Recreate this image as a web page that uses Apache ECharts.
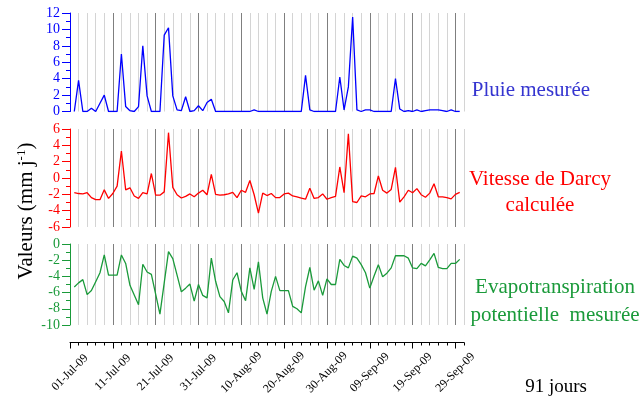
<!DOCTYPE html>
<html>
<head>
<meta charset="utf-8">
<script src="https://cdn.jsdelivr.net/npm/echarts@6/dist/echarts.min.js"></script>
<style>
    html, body { margin: 0; padding: 0; background: #fff; }
    #main { width: 643px; height: 400px; }
</style>
</head>
<body>
<div id="main"></div>
<script>
// étiquettes de l'axe des dates (tous les 10 jours)
var tickLabels = ['01-Jul-09', '11-Jul-09', '21-Jul-09', '31-Jul-09', '10-Aug-09',
    '20-Aug-09', '30-Aug-09', '09-Sep-09', '19-Sep-09', '29-Sep-09'];

// pluie mesurée (mm/j), un point par jour à partir du jour 1
var rain = [0, 3.8, 0, 0, 0.4, 0, 1.0, 2.0, 0, 0,
    0, 7.0, 0.6, 0.1, 0, 0.6, 8.0, 1.9, 0, 0,
    0, 9.3, 10.2, 1.9, 0.2, 0.1, 1.8, 0, 0.1, 0.7,
    0.1, 1.1, 1.5, 0, 0, 0, 0, 0, 0, 0,
    0, 0, 0.2, 0, 0, 0, 0, 0, 0, 0,
    0, 0, 0, 0, 4.4, 0.2, 0, 0, 0, 0,
    0, 0, 4.2, 0.2, 3.0, 11.5, 0.2, 0, 0.2, 0.2,
    0, 0, 0, 0, 0, 4.0, 0.3, 0, 0.1, 0,
    0.2, 0, 0.1, 0.2, 0.2, 0.2, 0.1, 0, 0.2, 0, 0];

// vitesse de Darcy calculée
var darcy = [-1.8, -1.9, -1.95, -1.8, -2.4, -2.65, -2.65, -1.45, -2.5, -1.9,
    -1.0, 3.3, -1.45, -1.2, -2.2, -2.5, -1.8, -1.95, 0.55, -2.1,
    -2.1, -1.7, 5.55, -1.15, -2.05, -2.45, -2.25, -1.95, -2.3, -1.85,
    -1.5, -2.05, 0.45, -2.0, -2.1, -2.05, -1.95, -1.75, -2.4, -1.5,
    -1.75, -0.3, -2.05, -4.3, -1.85, -2.15, -1.9, -2.4, -2.4, -1.95,
    -1.85, -2.2, -2.3, -2.45, -2.6, -1.25, -2.5, -2.4, -1.95, -2.6,
    -2.4, -2.25, 1.35, -1.8, 5.4, -2.9, -3.0, -2.2, -2.3, -1.95,
    -1.9, 0.25, -1.5, -1.85, -1.4, 1.3, -2.95, -2.3, -1.5, -1.8,
    -1.3, -2.05, -2.35, -1.85, -0.7, -2.3, -2.3, -2.4, -2.55, -2.0, -1.75];

// évapotranspiration potentielle mesurée
var etp = [-5.3, -4.8, -4.4, -6.25, -5.75, -4.65, -3.55, -1.35, -3.85, -3.85,
    -3.85, -1.35, -2.4, -5.1, -6.3, -7.5, -2.5, -3.45, -3.75, -6.2,
    -8.65, -4.8, -0.95, -1.8, -3.85, -5.9, -5.45, -4.95, -7.05, -5.0,
    -6.35, -6.65, -1.75, -4.6, -6.5, -7.1, -8.5, -4.45, -3.55, -5.85,
    -7.0, -2.95, -5.6, -2.2, -6.65, -8.65, -5.85, -4.0, -5.75, -5.75,
    -5.75, -7.7, -8.0, -8.5, -5.25, -2.9, -5.7, -4.55, -6.35, -4.3,
    -5.0, -5.0, -1.9, -2.65, -2.95, -1.5, -1.75, -2.55, -3.55, -5.45,
    -3.95, -2.55, -4.05, -3.6, -2.95, -1.45, -1.45, -1.45, -1.75, -2.95,
    -3.05, -2.4, -2.7, -1.95, -1.15, -2.9, -3.05, -3.05, -2.4, -2.4, -1.9];

var nbDays = 92;   // longueur de l'axe (jours)
var serif = 'Liberation Serif';
var blue = '#0000ff', red = '#ff0000', green = '#1a9a3a';
var dark = '#7f7f7f', light = '#d4d4d4';

function pairs(arr) {
    return arr.map(function (v, i) { return [i + 1, v]; });
}

function panelX(g) {
    return {
        type: 'value', gridIndex: g, min: 0, max: nbDays, interval: 2,
        axisLine: { show: false }, axisTick: { show: false }, axisLabel: { show: false },
        splitLine: { show: true, lineStyle: { color: [dark, light, light, light, light], width: 1 } }
    };
}

function panelY(g, min, max, color) {
    return {
        type: 'value', gridIndex: g, min: min, max: max, interval: 2,
        axisLine: { show: true, lineStyle: { color: color, width: 1 } },
        axisTick: { show: true, length: 8, lineStyle: { color: color } },
        minorTick: { show: true, splitNumber: 2, length: 4, lineStyle: { color: color } },
        axisLabel: { color: color, fontFamily: serif, fontSize: 14, margin: 10 },
        splitLine: { show: false }
    };
}

var axisCats = [];
for (var i = 0; i <= nbDays; i++) axisCats.push(i);

function isMajor(i) { return i % 10 === 0 && i <= 90; }

var myChart = echarts.init(document.getElementById('main'));

var option = {
    animation: false,
    backgroundColor: '#fff',
    grid: [
        { left: 70, width: 394, top: 13, height: 98.5, containLabel: false },
        { left: 70, width: 394, top: 129, height: 98, containLabel: false },
        { left: 70, width: 394, top: 244, height: 81, containLabel: false },
        { left: 70, width: 394, top: 341.5, height: 1, containLabel: false },
        { left: 70, width: 394, top: 341.5, height: 1, containLabel: false }
    ],
    xAxis: [
        panelX(0), panelX(1), panelX(2),
        {
            type: 'category', gridIndex: 3, data: axisCats, boundaryGap: false,
            axisLine: { show: true, lineStyle: { color: '#000' } },
            axisTick: { show: true, length: 3, interval: function (i) { return i % 2 === 0; }, lineStyle: { color: '#000' } },
            axisLabel: { show: false },
            splitLine: { show: false }
        },
        {
            type: 'category', gridIndex: 4, data: axisCats, boundaryGap: false,
            axisLine: { show: false },
            axisTick: { show: true, length: 6, interval: isMajor, lineStyle: { color: '#000' } },
            axisLabel: {
                show: true, interval: isMajor, rotate: 45, align: 'center', verticalAlign: 'middle',
                margin: 30, fontFamily: serif, fontSize: 12, color: '#000',
                formatter: function (v, idx) { return tickLabels[idx / 10] || ''; }
            },
            splitLine: { show: false }
        }
    ],
    yAxis: [
        panelY(0, 0, 12, blue),
        panelY(1, -6, 6, red),
        panelY(2, -10, 0, green),
        { type: 'value', gridIndex: 3, show: false },
        { type: 'value', gridIndex: 4, show: false }
    ],
    series: [
        { name: 'Pluie mesurée', type: 'line', xAxisIndex: 0, yAxisIndex: 0, data: pairs(rain),
          showSymbol: false, lineStyle: { color: blue, width: 1.3 }, itemStyle: { color: blue } },
        { name: 'Vitesse de Darcy calculée', type: 'line', xAxisIndex: 1, yAxisIndex: 1, data: pairs(darcy),
          showSymbol: false, lineStyle: { color: red, width: 1.3 }, itemStyle: { color: red } },
        { name: 'Evapotranspiration potentielle mesurée', type: 'line', xAxisIndex: 2, yAxisIndex: 2, data: pairs(etp),
          showSymbol: false, lineStyle: { color: green, width: 1.3 }, itemStyle: { color: green } }
    ],
    graphic: [
        {
            type: 'text', x: 26, y: 211, rotation: Math.PI / 2,
            style: {
                text: 'Valeurs (mm j{s|-1})', fill: '#000',
                font: '21px "Liberation Serif"', align: 'center', verticalAlign: 'middle',
                rich: { s: { fontSize: 13, fontFamily: serif, verticalAlign: 'top', fill: '#000' } }
            }
        },
        { type: 'text', x: 531, y: 90, style: { text: 'Pluie mesurée', fill: '#3535d0',
            font: '21px "Liberation Serif"', align: 'center', verticalAlign: 'middle' } },
        { type: 'text', x: 540, y: 192, style: { text: 'Vitesse de Darcy\ncalculée', fill: red, lineHeight: 26,
            font: '21px "Liberation Serif"', align: 'center', verticalAlign: 'middle' } },
        { type: 'text', x: 555, y: 301, style: { text: 'Evapotranspiration\npotentielle  mesurée', fill: green, lineHeight: 28,
            font: '21px "Liberation Serif"', align: 'center', verticalAlign: 'middle' } },
        { type: 'text', x: 556, y: 387, style: { text: '91 jours', fill: '#000',
            font: '19px "Liberation Serif"', align: 'center', verticalAlign: 'middle' } }
    ]
};

myChart.setOption(option);
</script>
</body>
</html>
